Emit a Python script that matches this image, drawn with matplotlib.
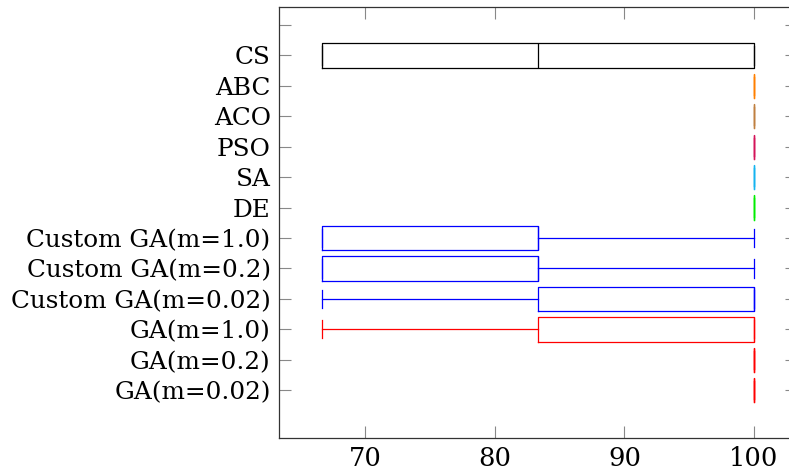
import matplotlib
matplotlib.use("Agg")
import matplotlib.pyplot as plt

# Algorithms, listed bottom to top along the y axis
labels = ["GA(m=0.02)", "GA(m=0.2)", "GA(m=1.0)",
          "Custom GA(m=0.02)", "Custom GA(m=0.2)", "Custom GA(m=1.0)",
          "DE", "SA", "PSO", "ACO", "ABC", "CS"]

# Five-number summaries (success rate, %)
whislo = [100.0, 100.0, 66.67, 66.67, 66.67, 66.67, 100.0, 100.0, 100.0, 100.0, 100.0, 66.67]
q1     = [100.0, 100.0, 83.33, 83.33, 66.67, 66.67, 100.0, 100.0, 100.0, 100.0, 100.0, 66.67]
med    = [100.0, 100.0, 100.0, 100.0, 83.33, 83.33, 100.0, 100.0, 100.0, 100.0, 100.0, 83.33]
q3     = [100.0, 100.0, 100.0, 100.0, 83.33, 83.33, 100.0, 100.0, 100.0, 100.0, 100.0, 100.0]
whishi = [100.0, 100.0, 100.0, 100.0, 100.0, 100.0, 100.0, 100.0, 100.0, 100.0, 100.0, 100.0]

colors = ["#ff0000", "#ff0000", "#ff0000",
          "#0000ff", "#0000ff", "#0000ff",
          "#00ee00", "#14b4f0", "#d4145a", "#c08040", "#ff8000", "#000000"]

xticks = [70, 80, 90, 100]

plt.rcParams["font.family"] = ["DejaVu Serif"]

fig = plt.figure(figsize=(7.89, 4.76), dpi=100)
ax = fig.add_axes([279 / 789, 1 - 438 / 476, (797 - 279) / 789, (438 - 7) / 476])

positions = list(range(1, len(labels) + 1))
for i, pos in enumerate(positions):
    stats = [dict(whislo=whislo[i], q1=q1[i], med=med[i], q3=q3[i],
                  whishi=whishi[i], fliers=[])]
    c = colors[i]
    lp = dict(color=c, linewidth=0.9)
    ax.bxp(stats, positions=[pos], vert=False, widths=0.8, capwidths=0.6,
           showfliers=False, boxprops=lp, whiskerprops=lp, capprops=lp,
           medianprops=lp, manage_ticks=False)

ax.set_xlim(63.33, 103.33)
ax.set_ylim(-0.57, 13.59)
ax.set_xticks(xticks)
ax.set_xticklabels([str(t) for t in xticks])
ax.set_yticks(positions + [len(labels) + 1])
ax.set_yticklabels(labels + [""])

ax.tick_params(axis="both", direction="in", length=8.6, width=0.8,
               color="#888888", pad=6, top=True, right=True)
ax.tick_params(axis="x", labelsize=18.5)
ax.tick_params(axis="y", labelsize=17.8)
for s in ax.spines.values():
    s.set_color("#333333")
    s.set_linewidth(0.9)

fig.savefig("out.png", dpi=100)
